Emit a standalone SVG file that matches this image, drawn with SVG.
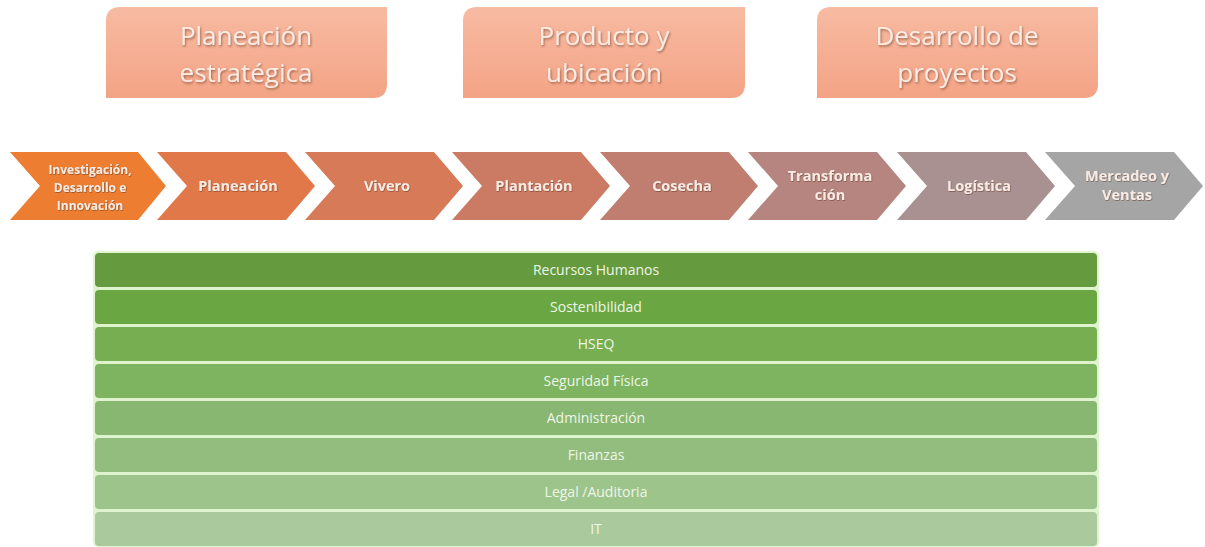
<svg xmlns="http://www.w3.org/2000/svg" width="1205" height="547" viewBox="0 0 1205 547">
<defs>
<linearGradient id="boxg" x1="0" y1="0" x2="0" y2="1">
<stop offset="0" stop-color="#f7bba2"/>
<stop offset="1" stop-color="#f4a385"/>
</linearGradient>
<filter id="sh" x="-10%" y="-10%" width="120%" height="130%">
<feDropShadow dx="1" dy="1.5" stdDeviation="0.8" flood-color="#7a4a35" flood-opacity="0.7"/>
</filter>
<filter id="sh2" x="-10%" y="-10%" width="120%" height="130%">
<feDropShadow dx="0.6" dy="0.8" stdDeviation="0.5" flood-color="#5a3020" flood-opacity="0.6"/>
</filter>
<style>
.box{fill:url(#boxg);}
.boxt{font-family:"Open Sans","Liberation Sans",sans-serif;font-size:26px;fill:#fcebe2;text-anchor:middle;filter:url(#sh);}
.chev{stroke:none;}
.ct{font-family:"Open Sans","Liberation Sans",sans-serif;font-size:14.5px;font-weight:bold;fill:#f8ebe4;text-anchor:middle;filter:url(#sh2);}
.ct1{font-size:12px;}
.bar{stroke:none;}
.bt{font-family:"Open Sans","Liberation Sans",sans-serif;font-size:14px;fill:#eef6e8;text-anchor:middle;}
</style>
</defs>
<rect width="1205" height="547" fill="#ffffff"/>

<g id="top-planeacion">
<path class="box" d="M120,7 H387 V84 Q387,98 373,98 H106 V21 Q106,7 120,7 Z"/>
<text class="boxt" x="246" y="45">Planeación</text>
<text class="boxt" x="246" y="82">estratégica</text>
</g>
<g id="top-producto">
<path class="box" d="M477,7 H745 V84 Q745,98 731,98 H463 V21 Q463,7 477,7 Z"/>
<text class="boxt" x="604" y="45">Producto y</text>
<text class="boxt" x="604" y="82">ubicación</text>
</g>
<g id="top-desarrollo">
<path class="box" d="M831,7 H1098 V84 Q1098,98 1084,98 H817 V21 Q817,7 831,7 Z"/>
<text class="boxt" x="957" y="45">Desarrollo de</text>
<text class="boxt" x="957" y="82">proyectos</text>
</g>

<g id="chev1">
<polygon class="chev" fill="#ED7D31" points="10,152 138,152 166,186 138,220 10,220 40,186"/>
<text class="ct ct1" x="90" y="174">Investigación,</text>
<text class="ct ct1" x="90" y="192">Desarrollo e</text>
<text class="ct ct1" x="90" y="210">Innovación</text>
</g>
<g id="chev2">
<polygon class="chev" fill="#E0784A" points="157,152 286,152 315,186 286,220 157,220 187,186"/>
<text class="ct" x="238" y="191">Planeación</text>
</g>
<g id="chev3">
<polygon class="chev" fill="#D77A58" points="305,152 434,152 463,186 434,220 305,220 335,186"/>
<text class="ct" x="387" y="191">Vivero</text>
</g>
<g id="chev4">
<polygon class="chev" fill="#CB7B63" points="452,152 581,152 610,186 581,220 452,220 482,186"/>
<text class="ct" x="534" y="191">Plantación</text>
</g>
<g id="chev5">
<polygon class="chev" fill="#BF7E70" points="600,152 729,152 758,186 729,220 600,220 630,186"/>
<text class="ct" x="682" y="191">Cosecha</text>
</g>
<g id="chev6">
<polygon class="chev" fill="#B6857F" points="748,152 877,152 906,186 877,220 748,220 778,186"/>
<text class="ct" x="830" y="181">Transforma</text>
<text class="ct" x="830" y="200">ción</text>
</g>
<g id="chev7">
<polygon class="chev" fill="#AA9191" points="897,152 1026,152 1055,186 1026,220 897,220 927,186"/>
<text class="ct" x="979" y="191">Logística</text>
</g>
<g id="chev8">
<polygon class="chev" fill="#A5A5A5" points="1045,152 1174,152 1203,186 1174,220 1045,220 1075,186"/>
<text class="ct" x="1127" y="181">Mercadeo y</text>
<text class="ct" x="1127" y="200">Ventas</text>
</g>

<g id="connectors"></g>

<rect x="93" y="251" width="1006" height="296" rx="5" fill="#e0f3cf"/>
<g id="bar1"><rect class="bar" x="95" y="253" width="1002" height="34" rx="4" fill="#659B3E"/><text class="bt" x="596" y="275">Recursos Humanos</text></g>
<g id="bar2"><rect class="bar" x="95" y="290" width="1002" height="34" rx="4" fill="#6AA642"/><text class="bt" x="596" y="312">Sostenibilidad</text></g>
<g id="bar3"><rect class="bar" x="95" y="327" width="1002" height="34" rx="4" fill="#76AE51"/><text class="bt" x="596" y="349">HSEQ</text></g>
<g id="bar4"><rect class="bar" x="95" y="364" width="1002" height="34" rx="4" fill="#7EB45F"/><text class="bt" x="596" y="386">Seguridad Física</text></g>
<g id="bar5"><rect class="bar" x="95" y="401" width="1002" height="34" rx="4" fill="#87B770"/><text class="bt" x="596" y="423">Administración</text></g>
<g id="bar6"><rect class="bar" x="95" y="438" width="1002" height="34" rx="4" fill="#92BD7E"/><text class="bt" x="596" y="460">Finanzas</text></g>
<g id="bar7"><rect class="bar" x="95" y="475" width="1002" height="34" rx="4" fill="#9DC48B"/><text class="bt" x="596" y="497">Legal /Auditoria</text></g>
<g id="bar8"><rect class="bar" x="95" y="512" width="1002" height="34" rx="4" fill="#AAC99C"/><text class="bt" x="596" y="534">IT</text></g>
</svg>
